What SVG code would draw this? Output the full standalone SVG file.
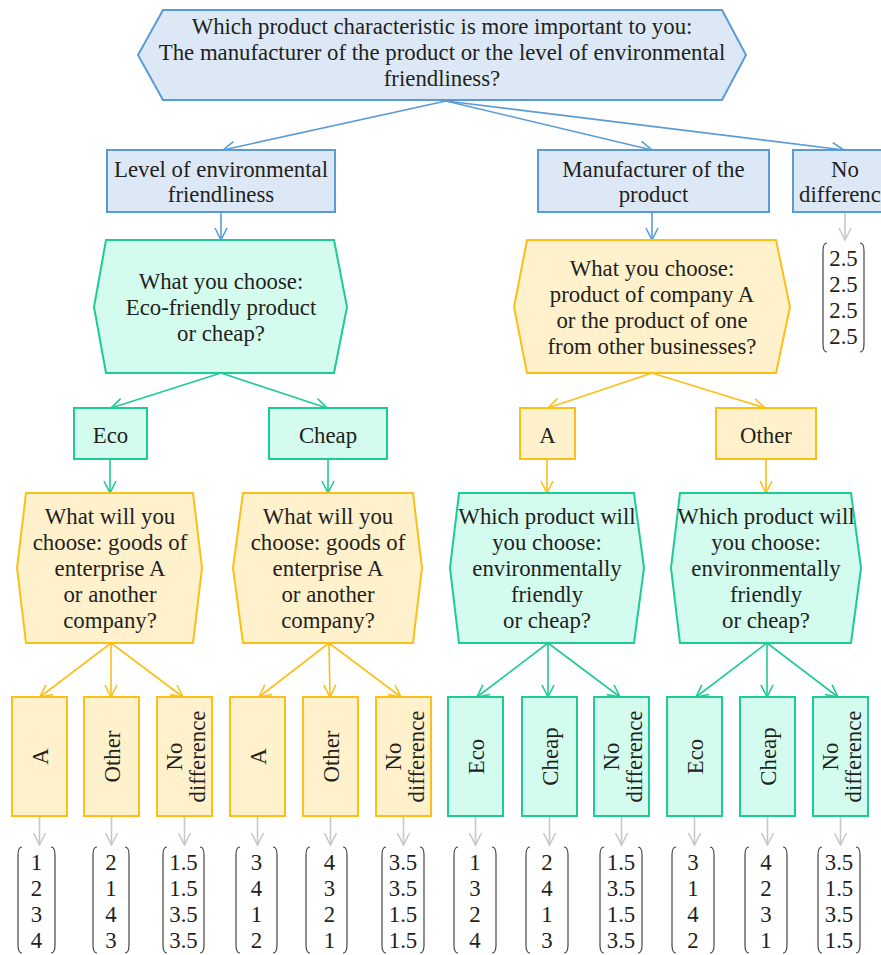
<svg xmlns="http://www.w3.org/2000/svg" width="881" height="955" viewBox="0 0 881 955" font-family="'Liberation Serif', Tinos, 'Times New Roman', 'DejaVu Serif', serif">
<style>
text{font-family:'Liberation Serif',Tinos,'Times New Roman','DejaVu Serif',serif;font-size:22.8px;fill:#231f20;text-anchor:middle}
.blue{fill:#dde8f6;stroke:#5b9bd5;stroke-width:2}
.green{fill:#d3fcee;stroke:#1ecb97;stroke-width:2}
.yellow{fill:#fff1cc;stroke:#fcbf18;stroke-width:2}
.cb{stroke:#5b9bd5;stroke-width:1.6;fill:none;marker-end:url(#ab)}
.cg{stroke:#1ecb97;stroke-width:1.6;fill:none;marker-end:url(#ag)}
.cy{stroke:#fcbf18;stroke-width:1.6;fill:none;marker-end:url(#ay)}
.cr{stroke:#c8c8c8;stroke-width:1.6;fill:none;marker-end:url(#ar)}
.br{fill:none;stroke:#444;stroke-width:1.2}
</style>
<defs>
<marker id="ab" viewBox="0 0 14 14" refX="13" refY="7" markerWidth="14" markerHeight="14" markerUnits="userSpaceOnUse" orient="auto"><path d="M1,1 L13,7 L1,13" fill="none" stroke="#5b9bd5" stroke-width="1.6"/></marker>
<marker id="ag" viewBox="0 0 14 14" refX="13" refY="7" markerWidth="14" markerHeight="14" markerUnits="userSpaceOnUse" orient="auto"><path d="M1,1 L13,7 L1,13" fill="none" stroke="#1ecb97" stroke-width="1.6"/></marker>
<marker id="ay" viewBox="0 0 14 14" refX="13" refY="7" markerWidth="14" markerHeight="14" markerUnits="userSpaceOnUse" orient="auto"><path d="M1,1 L13,7 L1,13" fill="none" stroke="#fcbf18" stroke-width="1.6"/></marker>
<marker id="ar" viewBox="0 0 14 14" refX="13" refY="7" markerWidth="14" markerHeight="14" markerUnits="userSpaceOnUse" orient="auto"><path d="M1,1 L13,7 L1,13" fill="none" stroke="#c8c8c8" stroke-width="1.6"/></marker>
</defs>

<g id="connectors">
<line class="cb" x1="446" y1="101" x2="223" y2="150"/>
<line class="cb" x1="446" y1="101" x2="652" y2="150"/>
<line class="cb" x1="446" y1="101" x2="844" y2="150"/>
<line class="cb" x1="221" y1="212" x2="221" y2="240"/>
<line class="cb" x1="652" y1="212" x2="652" y2="240"/>
<line class="cr" x1="845" y1="213" x2="845" y2="240"/>
<line class="cg" x1="221" y1="373" x2="111" y2="408"/>
<line class="cg" x1="221" y1="373" x2="327" y2="408"/>
<line class="cy" x1="652" y1="373" x2="548" y2="408"/>
<line class="cy" x1="652" y1="373" x2="765" y2="408"/>
<line class="cg" x1="110" y1="459" x2="110" y2="493"/>
<line class="cg" x1="328" y1="459" x2="328" y2="493"/>
<line class="cy" x1="547" y1="459" x2="547" y2="493"/>
<line class="cy" x1="766" y1="459" x2="766" y2="493"/>
<line class="cy" x1="111" y1="643" x2="40" y2="697"/>
<line class="cy" x1="111" y1="643" x2="111" y2="697"/>
<line class="cy" x1="111" y1="643" x2="183" y2="697"/>
<line class="cy" x1="329" y1="643" x2="259" y2="697"/>
<line class="cy" x1="329" y1="643" x2="330" y2="697"/>
<line class="cy" x1="329" y1="643" x2="401" y2="697"/>
<line class="cg" x1="548" y1="643" x2="477" y2="697"/>
<line class="cg" x1="548" y1="643" x2="548" y2="697"/>
<line class="cg" x1="548" y1="643" x2="620" y2="697"/>
<line class="cg" x1="767" y1="643" x2="696" y2="697"/>
<line class="cg" x1="767" y1="643" x2="767" y2="697"/>
<line class="cg" x1="767" y1="643" x2="838" y2="697"/>
<line class="cr" x1="39.5" y1="817" x2="39.5" y2="845"/>
<line class="cr" x1="111.5" y1="817" x2="111.5" y2="845"/>
<line class="cr" x1="184.5" y1="817" x2="184.5" y2="845"/>
<line class="cr" x1="257.5" y1="817" x2="257.5" y2="845"/>
<line class="cr" x1="330.5" y1="817" x2="330.5" y2="845"/>
<line class="cr" x1="403.5" y1="817" x2="403.5" y2="845"/>
<line class="cr" x1="475.5" y1="817" x2="475.5" y2="845"/>
<line class="cr" x1="549.5" y1="817" x2="549.5" y2="845"/>
<line class="cr" x1="621.5" y1="817" x2="621.5" y2="845"/>
<line class="cr" x1="694.5" y1="817" x2="694.5" y2="845"/>
<line class="cr" x1="767.5" y1="817" x2="767.5" y2="845"/>
<line class="cr" x1="840.5" y1="817" x2="840.5" y2="845"/>
</g>

<g id="q-main">
<polygon class="blue" points="163,10 722,10 746,55 722,100 163,100 138,55"/>
<text x="442" y="34">Which product characteristic is more important to you:</text>
<text x="442" y="60">The manufacturer of the product or the level of environmental</text>
<text x="442" y="86">friendliness?</text>
</g>

<g id="opt-eco-level">
<rect class="blue" x="107" y="150" width="228" height="62"/>
<text x="221" y="177">Level of environmental</text>
<text x="221" y="202">friendliness</text>
</g>
<g id="opt-manufacturer">
<rect class="blue" x="538" y="150" width="231" height="62"/>
<text x="653.5" y="177">Manufacturer of the</text>
<text x="653.5" y="202">product</text>
</g>
<g id="opt-nodiff">
<rect class="blue" x="793" y="150" width="104" height="62"/>
<text x="845" y="177">No</text>
<text x="845" y="202">difference</text>
</g>
<g id="m-top">
<path class="br" d="M827,243 Q823,243 823,251 L823,344 Q823,352 827,352"/>
<path class="br" d="M860,243 Q864,243 864,251 L864,344 Q864,352 860,352"/>
<text x="843.5" y="266">2.5</text>
<text x="843.5" y="292">2.5</text>
<text x="843.5" y="318">2.5</text>
<text x="843.5" y="344">2.5</text>
</g>

<g id="q-eco-cheap">
<polygon class="green" points="106,240 334,240 347,307 334,373 106,373 94,307"/>
<text x="221" y="289">What you choose:</text>
<text x="221" y="315">Eco-friendly product</text>
<text x="221" y="341">or cheap?</text>
</g>
<g id="q-company">
<polygon class="yellow" points="527,240 776,240 790,307 776,373 527,373 514,307"/>
<text x="652" y="276">What you choose:</text>
<text x="652" y="302">product of company A</text>
<text x="652" y="328">or the product of one</text>
<text x="652" y="354">from other businesses?</text>
</g>

<g id="eco"><rect class="green" x="74" y="408" width="73" height="51"/><text x="110.5" y="443">Eco</text></g>
<g id="cheap"><rect class="green" x="269" y="408" width="118" height="51"/><text x="328" y="443">Cheap</text></g>
<g id="a"><rect class="yellow" x="520" y="408" width="55" height="51"/><text x="547.5" y="443">A</text></g>
<g id="other"><rect class="yellow" x="716" y="408" width="100" height="51"/><text x="766" y="443">Other</text></g>

<g id="q4">
<polygon class="yellow" points="26,493 193,493 202,568 193,643 26,643 17,568"/>
<text x="110" y="524">What will you</text>
<text x="110" y="550">choose: goods of</text>
<text x="110" y="576">enterprise A</text>
<text x="110" y="602">or another</text>
<text x="110" y="628">company?</text>
</g>
<g id="q5">
<polygon class="yellow" points="243,493 413,493 422,568 413,643 243,643 233,568"/>
<text x="328" y="524">What will you</text>
<text x="328" y="550">choose: goods of</text>
<text x="328" y="576">enterprise A</text>
<text x="328" y="602">or another</text>
<text x="328" y="628">company?</text>
</g>
<g id="q6">
<polygon class="green" points="459,493 634,493 644,568 634,643 459,643 450,568"/>
<text x="547" y="524">Which product will</text>
<text x="547" y="550">you choose:</text>
<text x="547" y="576">environmentally</text>
<text x="547" y="602">friendly</text>
<text x="547" y="628">or cheap?</text>
</g>
<g id="q7">
<polygon class="green" points="680,493 851,493 861,568 851,643 680,643 671,568"/>
<text x="766" y="524">Which product will</text>
<text x="766" y="550">you choose:</text>
<text x="766" y="576">environmentally</text>
<text x="766" y="602">friendly</text>
<text x="766" y="628">or cheap?</text>
</g>

<g id="l1"><rect class="yellow" x="12" y="697" width="55" height="119"/><text transform="translate(39.5,756.5) rotate(-90)" y="8">A</text></g>
<g id="l2"><rect class="yellow" x="84" y="697" width="55" height="119"/><text transform="translate(111.5,756.5) rotate(-90)" y="8">Other</text></g>
<g id="l3"><rect class="yellow" x="157" y="697" width="55" height="119"/><text transform="translate(184.5,756.5) rotate(-90)"><tspan x="0" y="-2.5">No</tspan><tspan x="0" y="20.5">difference</tspan></text></g>
<g id="l4"><rect class="yellow" x="230" y="697" width="55" height="119"/><text transform="translate(257.5,756.5) rotate(-90)" y="8">A</text></g>
<g id="l5"><rect class="yellow" x="303" y="697" width="55" height="119"/><text transform="translate(330.5,756.5) rotate(-90)" y="8">Other</text></g>
<g id="l6"><rect class="yellow" x="376" y="697" width="55" height="119"/><text transform="translate(403.5,756.5) rotate(-90)"><tspan x="0" y="-2.5">No</tspan><tspan x="0" y="20.5">difference</tspan></text></g>
<g id="l7"><rect class="green" x="448" y="697" width="55" height="119"/><text transform="translate(475.5,756.5) rotate(-90)" y="8">Eco</text></g>
<g id="l8"><rect class="green" x="522" y="697" width="55" height="119"/><text transform="translate(549.5,756.5) rotate(-90)" y="8">Cheap</text></g>
<g id="l9"><rect class="green" x="594" y="697" width="55" height="119"/><text transform="translate(621.5,756.5) rotate(-90)"><tspan x="0" y="-2.5">No</tspan><tspan x="0" y="20.5">difference</tspan></text></g>
<g id="l10"><rect class="green" x="667" y="697" width="55" height="119"/><text transform="translate(694.5,756.5) rotate(-90)" y="8">Eco</text></g>
<g id="l11"><rect class="green" x="740" y="697" width="55" height="119"/><text transform="translate(767.5,756.5) rotate(-90)" y="8">Cheap</text></g>
<g id="l12"><rect class="green" x="813" y="697" width="55" height="119"/><text transform="translate(840.5,756.5) rotate(-90)"><tspan x="0" y="-2.5">No</tspan><tspan x="0" y="20.5">difference</tspan></text></g>

<g id="m1"><path class="br" d="M22,847 Q18,847 18,855 L18,945 Q18,953 22,953 M51,847 Q55,847 55,855 L55,945 Q55,953 51,953"/><text x="36.5" y="870">1</text><text x="36.5" y="896">2</text><text x="36.5" y="922">3</text><text x="36.5" y="948">4</text></g>
<g id="m2"><path class="br" d="M97,847 Q93,847 93,855 L93,945 Q93,953 97,953 M125,847 Q129,847 129,855 L129,945 Q129,953 125,953"/><text x="111" y="870">2</text><text x="111" y="896">1</text><text x="111" y="922">4</text><text x="111" y="948">3</text></g>
<g id="m3"><path class="br" d="M167,847 Q163,847 163,855 L163,945 Q163,953 167,953 M200,847 Q204,847 204,855 L204,945 Q204,953 200,953"/><text x="183.5" y="870">1.5</text><text x="183.5" y="896">1.5</text><text x="183.5" y="922">3.5</text><text x="183.5" y="948">3.5</text></g>
<g id="m4"><path class="br" d="M240,847 Q236,847 236,855 L236,945 Q236,953 240,953 M273,847 Q277,847 277,855 L277,945 Q277,953 273,953"/><text x="256.5" y="870">3</text><text x="256.5" y="896">4</text><text x="256.5" y="922">1</text><text x="256.5" y="948">2</text></g>
<g id="m5"><path class="br" d="M310,847 Q306,847 306,855 L306,945 Q306,953 310,953 M343,847 Q347,847 347,855 L347,945 Q347,953 343,953"/><text x="329.5" y="870">4</text><text x="329.5" y="896">3</text><text x="329.5" y="922">2</text><text x="329.5" y="948">1</text></g>
<g id="m6"><path class="br" d="M386,847 Q382,847 382,855 L382,945 Q382,953 386,953 M420,847 Q424,847 424,855 L424,945 Q424,953 420,953"/><text x="403" y="870">3.5</text><text x="403" y="896">3.5</text><text x="403" y="922">1.5</text><text x="403" y="948">1.5</text></g>
<g id="m7"><path class="br" d="M458,847 Q454,847 454,855 L454,945 Q454,953 458,953 M492,847 Q496,847 496,855 L496,945 Q496,953 492,953"/><text x="475" y="870">1</text><text x="475" y="896">3</text><text x="475" y="922">2</text><text x="475" y="948">4</text></g>
<g id="m8"><path class="br" d="M530,847 Q526,847 526,855 L526,945 Q526,953 530,953 M564,847 Q568,847 568,855 L568,945 Q568,953 564,953"/><text x="547" y="870">2</text><text x="547" y="896">4</text><text x="547" y="922">1</text><text x="547" y="948">3</text></g>
<g id="m9"><path class="br" d="M604,847 Q600,847 600,855 L600,945 Q600,953 604,953 M638,847 Q642,847 642,855 L642,945 Q642,953 638,953"/><text x="621" y="870">1.5</text><text x="621" y="896">3.5</text><text x="621" y="922">1.5</text><text x="621" y="948">3.5</text></g>
<g id="m10"><path class="br" d="M676,847 Q672,847 672,855 L672,945 Q672,953 676,953 M710,847 Q714,847 714,855 L714,945 Q714,953 710,953"/><text x="693" y="870">3</text><text x="693" y="896">1</text><text x="693" y="922">4</text><text x="693" y="948">2</text></g>
<g id="m11"><path class="br" d="M749,847 Q745,847 745,855 L745,945 Q745,953 749,953 M783,847 Q787,847 787,855 L787,945 Q787,953 783,953"/><text x="766" y="870">4</text><text x="766" y="896">2</text><text x="766" y="922">3</text><text x="766" y="948">1</text></g>
<g id="m12"><path class="br" d="M822,847 Q818,847 818,855 L818,945 Q818,953 822,953 M856,847 Q860,847 860,855 L860,945 Q860,953 856,953"/><text x="839" y="870">3.5</text><text x="839" y="896">1.5</text><text x="839" y="922">3.5</text><text x="839" y="948">1.5</text></g>
</svg>
